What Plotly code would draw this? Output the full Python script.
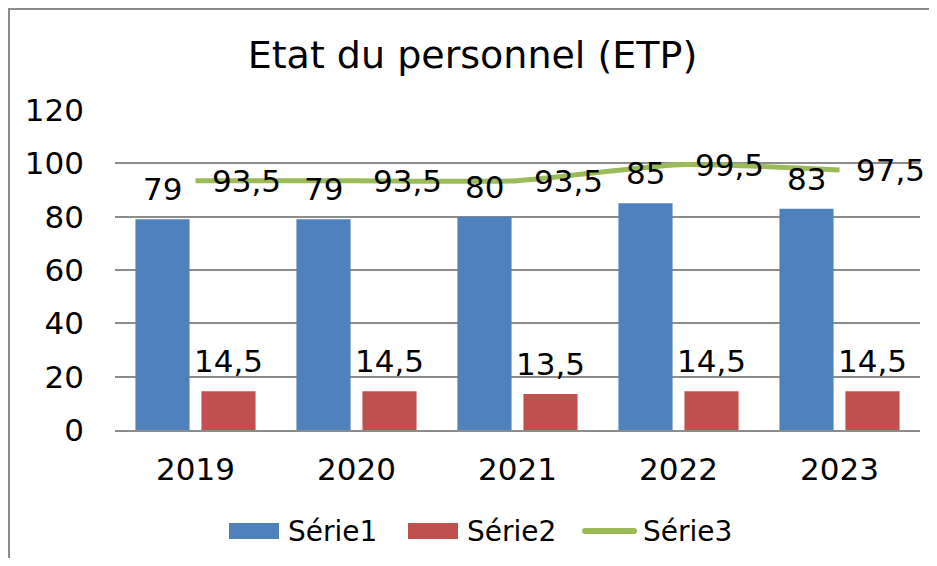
import plotly.graph_objects as go

years = ["2019", "2020", "2021", "2022", "2023"]
serie1 = [79, 79, 80, 85, 83]
serie2 = [14.5, 14.5, 13.5, 14.5, 14.5]
serie3 = [93.5, 93.5, 93.5, 99.5, 97.5]
series_names = ["Série1", "Série2", "Série3"]
y_ticks = [0, 20, 40, 60, 80, 100, 120]

BLUE = "#4F81BD"
RED = "#C0504D"
GREEN = "#9BBB59"
GRID = "#8C8C8C"
FONT = "DejaVu Sans"

# page body has an 8px margin: figure is drawn from (8, 8) of the window
OFF = 8
W, H = 937 - 2 * OFF, 566 - 2 * OFF
ML, MT = 107, 102
PLOT_W, PLOT_H = 805, 320
MR = W - ML - PLOT_W
MB = H - MT - PLOT_H
BARGAP = 0.18
BARGROUPGAP = 0.18

plot_w = PLOT_W
plot_h = PLOT_H

def px(sx):  # window pixel x -> paper x
    return (sx - OFF - ML) / plot_w

def py(sy):  # window pixel y -> paper y
    return (MT + plot_h - (sy - OFF)) / plot_h

def fmt(v):
    return ("%g" % v).replace(".", ",")

fig = go.Figure()
fig.add_trace(go.Bar(x=years, y=serie1, name=series_names[0], marker=dict(color=BLUE, line=dict(width=0))))
fig.add_trace(go.Bar(x=years, y=serie2, name=series_names[1], marker=dict(color=RED, line=dict(width=0))))
fig.add_trace(go.Scatter(x=years, y=serie3, name=series_names[2], mode="lines",
                         line=dict(color=GREEN, width=5, shape="spline", smoothing=0.6)))

# pixel offsets of bars inside a group
cat_w = plot_w / len(years)
group_w = cat_w * (1 - BARGAP)
off = group_w / 4

lab_font = dict(size=31, color="black", family=FONT)
ann = []
for i, v in enumerate(serie1):
    ann.append(dict(x=i, y=v, xref="x", yref="y", text=fmt(v), xshift=-off, yshift=30, showarrow=False,
                    xanchor="center", yanchor="middle", font=lab_font))
for i, v in enumerate(serie2):
    ann.append(dict(x=i, y=v, xref="x", yref="y", text=fmt(v), xshift=off, yshift=30, showarrow=False,
                    xanchor="center", yanchor="middle", font=lab_font))
for i, v in enumerate(serie3):
    ann.append(dict(x=i, y=v, xref="x", yref="y", text=fmt(v), xshift=14, yshift=0, showarrow=False,
                    xanchor="left", yanchor="middle", font=lab_font))

# custom legend (Excel style swatches)
leg_font = dict(size=28, color="black", family=FONT)
leg_y = py(531)
shapes = [
    dict(type="rect", xref="paper", yref="paper", x0=(1 - ML) / plot_w, x1=(W + 10 - ML) / plot_w,
         y0=-(MB + 10) / plot_h, y1=(MT + plot_h - 1) / plot_h,
         line=dict(color="#8C8C8C", width=2), fillcolor="rgba(0,0,0,0)", layer="below"),
    dict(type="rect", xref="paper", yref="paper", x0=px(229), x1=px(279), y0=py(539), y1=py(523),
         line=dict(width=0), fillcolor=BLUE),
    dict(type="rect", xref="paper", yref="paper", x0=px(408), x1=px(458), y0=py(539), y1=py(523),
         line=dict(width=0), fillcolor=RED),
    dict(type="line", xref="paper", yref="paper", x0=px(585), x1=px(634), y0=leg_y, y1=leg_y,
         line=dict(color=GREEN, width=6)),
]
for sx, name in zip([286, 465, 641], series_names):
    ann.append(dict(x=px(sx), y=leg_y, xref="paper", yref="paper", text=name, showarrow=False,
                    xanchor="left", yanchor="middle", font=leg_font))
# rounded ends for the legend line
for sx in (585, 634):
    shapes.append(dict(type="circle", xref="paper", yref="paper",
                       x0=px(sx - 3), x1=px(sx + 3), y0=py(534), y1=py(528),
                       line=dict(width=0), fillcolor=GREEN))

fig.update_layout(
    width=W, height=H,
    margin=dict(l=ML, r=MR, t=MT, b=MB, autoexpand=False),
    paper_bgcolor="white", plot_bgcolor="white",
    barmode="group", bargap=BARGAP, bargroupgap=BARGROUPGAP,
    showlegend=False,
    font=dict(family=FONT, color="black"),
    title=dict(text="Etat du personnel (ETP)", x=(W / 2 + 4) / W, xanchor="center",
               y=1 - 47 / H, yanchor="middle",
               font=dict(size=38, family=FONT, color="black")),
    annotations=ann,
    shapes=shapes,
    xaxis=dict(type="category", range=[-0.5, len(years) - 0.5], showgrid=False, showline=True,
               linecolor=GRID, linewidth=2, ticks="", automargin=False,
               tickfont=dict(size=31, family=FONT, color="black"), ticklabelstandoff=11),
    yaxis=dict(range=[0, 120], tickvals=y_ticks, showgrid=True, gridcolor=GRID, gridwidth=2,
               zeroline=False, showline=False, ticks="", automargin=False,
               tickfont=dict(size=31, family=FONT, color="black"), ticklabelstandoff=30),
)

fig.write_html("out.html")
